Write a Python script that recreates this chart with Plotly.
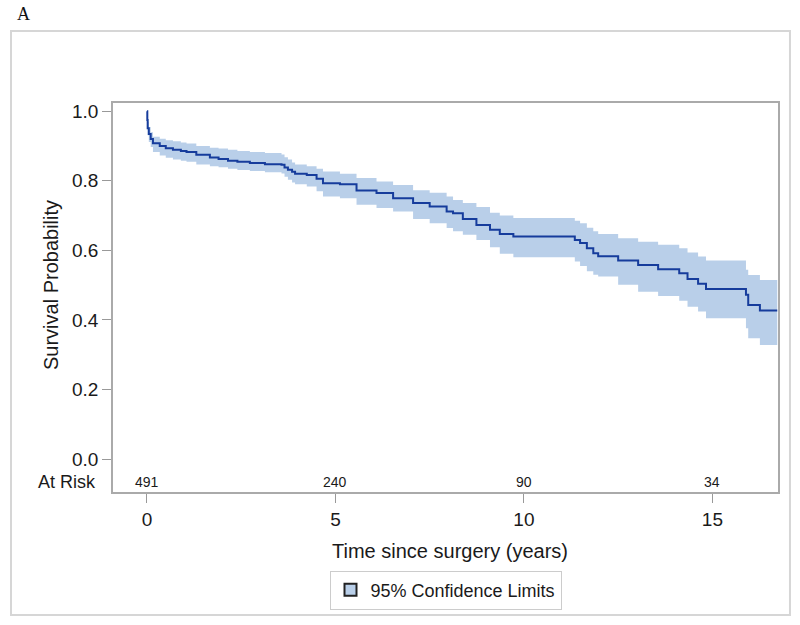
import plotly.graph_objects as go

# Kaplan-Meier estimate (step after each time)
time_yrs = [0.00, 0.01, 0.02, 0.05, 0.10, 0.16, 0.34, 0.50, 0.69, 0.90, 1.05, 1.31, 1.67, 1.90,
            2.15, 2.40, 2.73, 3.13, 3.57, 3.65, 3.74, 3.85, 3.93, 4.24, 4.50, 4.67, 5.12, 5.56,
            6.09, 6.53, 7.06, 7.50, 7.95, 8.12, 8.38, 8.74, 9.10, 9.36, 9.72, 11.35, 11.49,
            11.67, 11.84, 11.97, 12.50, 13.03, 13.56, 14.12, 14.34, 14.62, 14.83, 15.89, 15.95,
            16.26, 16.72]
survival = [1.000, 0.975, 0.951, 0.935, 0.920, 0.908, 0.900, 0.894, 0.889, 0.886, 0.883, 0.875,
            0.867, 0.863, 0.858, 0.855, 0.851, 0.848, 0.846, 0.838, 0.832, 0.826, 0.820, 0.817,
            0.806, 0.793, 0.790, 0.772, 0.765, 0.750, 0.736, 0.726, 0.712, 0.707, 0.690, 0.673,
            0.659, 0.647, 0.640, 0.630, 0.621, 0.606, 0.592, 0.583, 0.571, 0.558, 0.546, 0.534,
            0.518, 0.504, 0.489, 0.472, 0.443, 0.427, 0.427]
upper_cl = [1.000, 0.988, 0.970, 0.955, 0.940, 0.927, 0.921, 0.917, 0.914, 0.910, 0.907, 0.900,
            0.895, 0.893, 0.889, 0.886, 0.883, 0.880, 0.876, 0.868, 0.861, 0.853, 0.847, 0.842,
            0.835, 0.827, 0.820, 0.808, 0.798, 0.788, 0.773, 0.766, 0.755, 0.745, 0.736, 0.725,
            0.708, 0.700, 0.693, 0.685, 0.678, 0.665, 0.655, 0.647, 0.635, 0.625, 0.616, 0.606,
            0.594, 0.582, 0.571, 0.544, 0.529, 0.515, 0.515]
lower_cl = [1.000, 0.960, 0.931, 0.912, 0.897, 0.883, 0.873, 0.866, 0.861, 0.858, 0.855, 0.847,
            0.842, 0.839, 0.835, 0.831, 0.828, 0.825, 0.821, 0.812, 0.803, 0.795, 0.790, 0.784,
            0.770, 0.755, 0.750, 0.731, 0.722, 0.712, 0.690, 0.678, 0.664, 0.655, 0.645, 0.630,
            0.609, 0.590, 0.580, 0.568, 0.555, 0.540, 0.530, 0.525, 0.501, 0.481, 0.469, 0.455,
            0.438, 0.424, 0.405, 0.376, 0.347, 0.328, 0.328]

risk_times = [0, 5, 10, 15]
at_risk = [491, 240, 90, 34]

band_col = '#b9cfe9'
line_col = '#163c9c'
txt_col = '#1a1a1a'
font = 'Liberation Sans'

fig = go.Figure()
fig.add_trace(go.Scatter(x = time_yrs, y = lower_cl, mode = 'lines', line = dict(width = 0, shape = 'hv'),
                         showlegend = False, hoverinfo = 'skip'))
fig.add_trace(go.Scatter(x = time_yrs, y = upper_cl, mode = 'lines', line = dict(width = 0, shape = 'hv'),
                         fill = 'tonexty', fillcolor = band_col, showlegend = False, hoverinfo = 'skip'))
fig.add_trace(go.Scatter(x = time_yrs, y = survival, mode = 'lines', line = dict(color = line_col, width = 2, shape = 'hv'),
                         showlegend = False))
#legend swatch only
fig.add_trace(go.Scatter(x = [None], y = [None], mode = 'markers', name = '95% Confidence Limits',
                         marker = dict(symbol = 'square', size = 14, color = band_col, line = dict(color = '#222222', width = 1.5))))

for t, n in zip(risk_times, at_risk):
  fig.add_annotation(x = t, y = -0.065, text = str(n), showarrow = False,
                     font = dict(family = font, size = 14, color = txt_col))
fig.add_annotation(xref = 'paper', x = -0.022, y = -0.065, xanchor = 'right', text = 'At Risk', showarrow = False,
                   font = dict(family = font, size = 18, color = txt_col))
fig.add_annotation(xref = 'paper', yref = 'paper', x = -0.148, y = 1.229, xanchor = 'left', yanchor = 'middle', text = 'A',
                   showarrow = False, font = dict(family = 'Liberation Serif', size = 18, color = '#111111'))
#axis titles
fig.add_annotation(xref = 'paper', yref = 'paper', x = -0.1128, y = 0.532, textangle = -90, text = 'Survival Probability',
                   showarrow = False, font = dict(family = font, size = 20, color = txt_col))
fig.add_annotation(xref = 'paper', yref = 'paper', x = 0.507, y = -0.152, yanchor = 'middle', text = 'Time since surgery (years)',
                   showarrow = False, font = dict(family = font, size = 20, color = txt_col))

#outer frame
fig.add_shape(type = 'rect', xref = 'paper', yref = 'paper', x0 = -0.1534, x1 = 1.018, y0 = -0.316, y1 = 1.185,
              line = dict(color = '#d6d6d6', width = 2))

fig.update_xaxes(range = [-0.9, 16.74], tickvals = [0, 5, 10, 15], ticks = 'outside', ticklen = 9,
                 tickcolor = '#999999', showline = True, linecolor = '#aaaaaa', linewidth = 1.5, mirror = True,
                 showgrid = False, zeroline = False, tickfont = dict(family = font, size = 19, color = txt_col))
fig.update_yaxes(range = [-0.0949, 1.0238], tickvals = [0, 0.2, 0.4, 0.6, 0.8, 1.0], tickformat = '.1f',
                 ticks = 'outside', ticklen = 9, tickcolor = '#999999', showline = True, linecolor = '#aaaaaa',
                 linewidth = 1.5, mirror = True, showgrid = False, zeroline = False,
                 tickfont = dict(family = font, size = 19, color = txt_col))
fig.update_layout(width = 800, height = 625, margin = dict(l = 113, r = 22, t = 103, b = 133),
                  plot_bgcolor = 'white', paper_bgcolor = 'white',
                  legend = dict(orientation = 'h', x = 0.5, xanchor = 'center', y = -0.252, yanchor = 'middle',
                                bordercolor = '#cccccc', borderwidth = 1, font = dict(family = font, size = 18, color = txt_col),
                                itemsizing = 'constant'))
# drop the default 8px body margin so the figure sits at the window's corner
fig.write_html('out.html', config = {'displayModeBar': False},
               post_script = "document.body.style.margin = '0';")
